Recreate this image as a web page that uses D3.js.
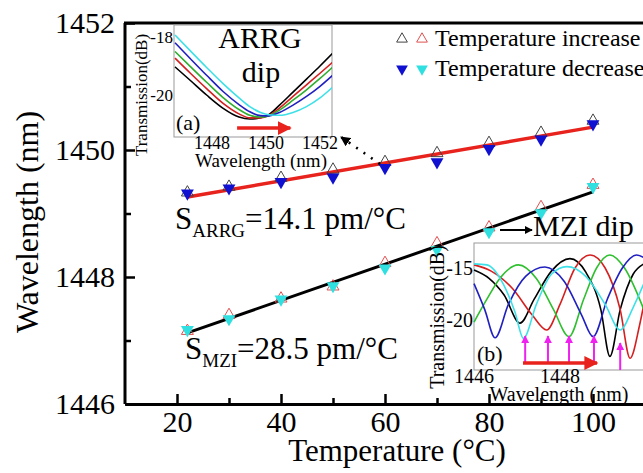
<!DOCTYPE html>
<meta charset="utf-8">
<style>
    body { margin: 0; background: #fff; }
    svg { display: block; }
    svg text { font-family: 'Liberation Serif', 'Times New Roman', serif !important; fill: #000; }
    .axis .domain { stroke: #000; stroke-width: 3; }
    .axis .tick line { stroke: #000; stroke-width: 2.5; }
</style>
<svg width="643" height="473"></svg>
<script src="https://d3js.org/d3.v7.min.js"></script>
<script>

    // main plot: peak wavelength (nm) vs temperature (°C)
    var temps = [22, 30, 40, 50, 60, 70, 80, 90, 100];
    var arrgUp = [1449.33, 1449.42, 1449.56, 1449.69, 1449.81, 1449.95, 1450.11, 1450.27, 1450.46];
    var arrgDown = [1449.32, 1449.40, 1449.50, 1449.57, 1449.72, 1449.81, 1450.02, 1450.17, 1450.41];
    var mziUp = [1447.15, 1447.40, 1447.66, 1447.85, 1448.22, 1448.53, 1448.78, 1449.10, 1449.45];
    var mziDown = [1447.17, 1447.34, 1447.65, 1447.86, 1448.14, 1448.43, 1448.71, 1449.01, 1449.42];
    var arrgFit = [[22, 1449.26], [100, 1450.36]];
    var mziFit = [[22, 1447.12], [100, 1449.34]];
    var xTicks = [20, 40, 60, 80, 100], xMinor = [30, 50, 70, 90];
    var yTicks = [1446, 1448, 1450, 1452], yMinor = [1447, 1449, 1451];

    // inset (a): ARRG dip spectra
    var aWl = [1446.63, 1447.2, 1447.8, 1448.4, 1449.0, 1449.4, 1449.8, 1450.1, 1450.5, 1451.0, 1451.5, 1452.0, 1452.48];
    var aBlack = [-19.03, -19.5, -20.0, -20.45, -20.76, -20.83, -20.78, -20.68, -20.35, -19.9, -19.45, -19.0, -18.55];
    var aRed = [-18.73, -19.25, -19.78, -20.28, -20.65, -20.79, -20.79, -20.71, -20.45, -20.05, -19.65, -19.25, -18.86];
    var aGreen = [-18.5, -19.02, -19.56, -20.08, -20.5, -20.7, -20.76, -20.72, -20.52, -20.18, -19.82, -19.43, -19.03];
    var aBlue = [-18.2, -18.75, -19.32, -19.87, -20.33, -20.58, -20.71, -20.72, -20.6, -20.35, -20.05, -19.7, -19.31];
    var aCyan = [-17.93, -18.48, -19.05, -19.6, -20.1, -20.4, -20.6, -20.68, -20.7, -20.6, -20.4, -20.1, -19.72];
    var aTicksX = [1448, 1450, 1452], aTicksY = [-18, -20];

    // inset (b): MZI spectra, [wavelength, dB]
    var bBlack = [[1446.0, -15.2], [1446.35, -16.0], [1446.7, -17.6], [1447.07, -20.3], [1447.4, -18.0], [1447.8, -15.3], [1448.23, -14.1],
        [1448.6, -15.4], [1448.95, -19.0], [1449.16, -23.5], [1449.4, -19.0], [1449.7, -15.6], [1449.95, -14.6]];
    var bRed = [[1446.0, -14.7], [1446.4, -15.3], [1446.9, -17.0], [1447.35, -19.5], [1447.69, -20.96], [1448.0, -18.5], [1448.35, -15.0],
        [1448.7, -13.75], [1449.05, -15.0], [1449.4, -19.0], [1449.63, -23.68], [1449.85, -20.5], [1449.95, -18.5]];
    var bGreen = [[1446.0, -20.2], [1446.3, -18.0], [1446.6, -16.0], [1447.03, -14.7], [1447.45, -16.0], [1447.85, -19.0], [1448.21, -21.6],
        [1448.55, -18.0], [1448.85, -15.0], [1449.16, -13.75], [1449.5, -15.0], [1449.95, -19.0]];
    var bBlue = [[1446.0, -16.5], [1446.25, -19.0], [1446.49, -21.7], [1446.8, -18.5], [1447.2, -15.8], [1447.65, -14.9], [1448.1, -16.3],
        [1448.5, -19.5], [1448.77, -21.6], [1449.1, -18.0], [1449.45, -15.0], [1449.78, -13.75], [1449.95, -14.0]];
    var bCyan = [[1446.0, -14.6], [1446.3, -14.7], [1446.65, -16.3], [1446.95, -19.2], [1447.15, -21.76], [1447.45, -18.5], [1447.8, -15.6],
        [1448.16, -14.87], [1448.6, -15.8], [1449.05, -18.5], [1449.4, -20.96], [1449.7, -18.8], [1449.95, -16.5]];
    var bDips = [1447.19, 1447.72, 1448.21, 1448.79, 1449.40];
    var bTicksX = [1446, 1448], bTicksY = [-15, -20];

    var svg = d3.select("svg");

    var x = d3.scaleLinear().domain([10, 110]).range([125, 645]);
    var y = d3.scaleLinear().domain([1446, 1452]).range([404, 23]);

    // arrow heads
    var defs = svg.append("defs");
    function head(id, color) {
        defs.append("marker").attr("id", id)
            .attr("viewBox", "0 0 10 10").attr("refX", 9).attr("refY", 5)
            .attr("markerWidth", 4).attr("markerHeight", 4).attr("orient", "auto")
            .append("path").attr("d", "M0,0L10,5L0,10Z").attr("fill", color);
    }
    head("hRed", "#e8221c");
    head("hMag", "#f020f0");
    head("hBlk", "#000");

    // top frame
    svg.append("line").attr("x1", 124).attr("x2", 643).attr("y1", y(1452)).attr("y2", y(1452))
        .attr("stroke", "#000").attr("stroke-width", 3);

    // axes
    var gx = svg.append("g").attr("class", "axis").attr("transform", "translate(0," + y(1446) + ")")
        .call(d3.axisBottom(x).tickValues(xTicks).tickSize(-10).tickSizeOuter(0).tickPadding(7));
    gx.selectAll("text").style("font-size", "30px");
    svg.append("g").attr("class", "axis").attr("transform", "translate(0," + y(1446) + ")")
        .call(d3.axisBottom(x).tickValues(xMinor).tickSize(-6).tickFormat(""))
        .select(".domain").remove();
    var gy = svg.append("g").attr("class", "axis").attr("transform", "translate(" + x(10) + ",0)")
        .call(d3.axisLeft(y).tickValues(yTicks).tickSize(-10).tickSizeOuter(0).tickPadding(10).tickFormat(d3.format("d")));
    gy.selectAll("text").style("font-size", "30px");
    gy.select(".domain").attr("d", "M0," + y(1452) + "V" + y(1446));
    svg.append("g").attr("class", "axis").attr("transform", "translate(" + x(10) + ",0)")
        .call(d3.axisLeft(y).tickValues(yMinor).tickSize(-6).tickFormat(""))
        .select(".domain").remove();

    svg.append("text").attr("x", 397).attr("y", 461).attr("text-anchor", "middle")
        .style("font-size", "31px").text("Temperature (°C)");
    svg.append("text").attr("transform", "translate(38,222) rotate(-90)").attr("text-anchor", "middle")
        .style("font-size", "32px").text("Wavelength (nm)");

    // fit lines
    var fit = d3.line().x(function (d) { return x(d[0]); }).y(function (d) { return y(d[1]); });
    svg.append("path").attr("d", fit(arrgFit)).attr("stroke", "#e8221c").attr("stroke-width", 3.5).attr("fill", "none");
    svg.append("path").attr("d", fit(mziFit)).attr("stroke", "#000").attr("stroke-width", 3).attr("fill", "none");

    // markers
    var up = d3.symbol(d3.symbolTriangle, 62), down = d3.symbol(d3.symbolTriangle, 72);
    function openTri(vals, color) {
        svg.append("g").selectAll("path").data(vals).enter().append("path")
            .attr("transform", function (d, i) { return "translate(" + x(temps[i]) + "," + y(d) + ")"; })
            .attr("d", up).attr("fill", "none").attr("stroke", color).attr("stroke-width", 1);
    }
    function fillTri(vals, color) {
        svg.append("g").selectAll("path").data(vals).enter().append("path")
            .attr("transform", function (d, i) { return "translate(" + x(temps[i]) + "," + y(d) + ") rotate(180)"; })
            .attr("d", down).attr("fill", color);
    }
    openTri(arrgUp, "#444");
    openTri(mziUp, "#e05050");
    fillTri(arrgDown, "#1010d0");
    fillTri(mziDown, "#30e0e0");

    // legend
    [["#444", 402], ["#e05050", 422]].forEach(function (s) {
        svg.append("path").attr("transform", "translate(" + s[1] + ",39)").attr("d", d3.symbol(d3.symbolTriangle, 50))
            .attr("fill", "none").attr("stroke", s[0]).attr("stroke-width", 1);
    });
    [["#1010d0", 402], ["#30e0e0", 422]].forEach(function (s) {
        svg.append("path").attr("transform", "translate(" + s[1] + ",69) rotate(180)").attr("d", d3.symbol(d3.symbolTriangle, 60))
            .attr("fill", s[0]);
    });
    svg.append("text").attr("x", 435).attr("y", 46).style("font-size", "24px").text("Temperature increase");
    svg.append("text").attr("x", 435).attr("y", 76).style("font-size", "24px").text("Temperature decrease");

    // sensitivity labels
    function sens(x0, yb, sub, rest) {
        var t = svg.append("text").attr("x", x0).attr("y", yb).style("font-size", "31px");
        t.append("tspan").text("S");
        t.append("tspan").attr("dy", 8).style("font-size", "19px").text(sub);
        t.append("tspan").attr("dy", -8).text(rest);
    }
    sens(175, 229, "ARRG", "=14.1 pm/°C");
    sens(185, 359, "MZI", "=28.5 pm/°C");

    svg.append("text").attr("x", 533).attr("y", 236).style("font-size", "30px").text("MZI dip");
    svg.append("line").attr("x1", 500).attr("x2", 532).attr("y1", 230).attr("y2", 230)
        .attr("stroke", "#000").attr("stroke-width", 2).attr("marker-end", "url(#hBlk)");

    // dotted pointer to inset (a)
    svg.append("line").attr("x1", 380).attr("y1", 164).attr("x2", 341).attr("y2", 137)
        .attr("stroke", "#000").attr("stroke-width", 2.5).attr("stroke-dasharray", "2,7")
        .attr("marker-end", "url(#hBlk)");

    // ---------- inset (a) ----------
    var xa = d3.scaleLinear().domain([1448, 1452]).range([212, 320]);
    var ya = d3.scaleLinear().domain([-18, -20]).range([37, 95]);
    var ga = svg.append("g");
    ga.append("rect").attr("x", 174).attr("y", 25).attr("width", 158).attr("height", 112)
        .attr("fill", "#fff").attr("stroke", "#999").attr("stroke-width", 1);
    defs.append("clipPath").attr("id", "clipA").append("rect").attr("x", 174).attr("y", 25).attr("width", 158).attr("height", 112);
    var lineA = d3.line().curve(d3.curveMonotoneX)
        .x(function (d, i) { return xa(aWl[i]); }).y(function (d) { return ya(d); });
    [[aBlack, "#000"], [aRed, "#d42020"], [aGreen, "#2fae2f"], [aBlue, "#2020c0"], [aCyan, "#3ee0e8"]].forEach(function (c) {
        ga.append("path").attr("clip-path", "url(#clipA)").attr("d", lineA(c[0]))
            .attr("fill", "none").attr("stroke", c[1]).attr("stroke-width", 1.6);
    });
    ga.append("text").attr("x", 260).attr("y", 48).attr("text-anchor", "middle").style("font-size", "30px").text("ARRG");
    ga.append("text").attr("x", 261).attr("y", 82).attr("text-anchor", "middle").style("font-size", "30px").text("dip");
    ga.append("text").attr("x", 176).attr("y", 130).style("font-size", "22px").text("(a)");
    ga.append("line").attr("x1", xa(1448.93)).attr("x2", xa(1450.9)).attr("y1", ya(-21.14)).attr("y2", ya(-21.14))
        .attr("stroke", "#e8221c").attr("stroke-width", 3.5).attr("marker-end", "url(#hRed)");
    aTicksY.forEach(function (v) {
        ga.append("text").attr("x", 173).attr("y", ya(v)).attr("dy", "0.33em").attr("text-anchor", "end")
            .style("font-size", "17px").text(v);
    });
    aTicksX.forEach(function (v) {
        ga.append("text").attr("x", xa(v)).attr("y", 149).attr("text-anchor", "middle").style("font-size", "18px").text(v);
    });
    ga.append("text").attr("x", 261).attr("y", 167).attr("text-anchor", "middle").style("font-size", "19px").text("Wavelength (nm)");
    ga.append("text").attr("transform", "translate(147,95) rotate(-90)").attr("text-anchor", "middle")
        .style("font-size", "17px").text("Transmission(dB)");

    // ---------- inset (b) ----------
    var xb = d3.scaleLinear().domain([1446, 1448]).range([474, 560]);
    var yb = d3.scaleLinear().domain([-15, -20]).range([268, 320]);
    var gb = svg.append("g");
    gb.append("rect").attr("x", 474).attr("y", 243).attr("width", 175).attr("height", 127)
        .attr("fill", "#fff").attr("stroke", "#999").attr("stroke-width", 1);
    var lineB = d3.line().curve(d3.curveMonotoneX)
        .x(function (d) { return xb(d[0]); }).y(function (d) { return yb(d[1]); });
    [[bBlack, "#000"], [bRed, "#d42020"], [bGreen, "#2fbf2f"], [bBlue, "#2020c0"], [bCyan, "#3ee0e8"]].forEach(function (c) {
        gb.append("path").attr("d", lineB(c[0])).attr("fill", "none").attr("stroke", c[1]).attr("stroke-width", 1.6);
    });
    bDips.forEach(function (w, i) {
        gb.append("line").attr("x1", xb(w)).attr("x2", xb(w))
            .attr("y1", i < 4 ? 364 : 370).attr("y2", i < 4 ? 336 : 343)
            .attr("stroke", "#f020f0").attr("stroke-width", 2).attr("marker-end", "url(#hMag)");
    });
    gb.append("line").attr("x1", xb(1447.14)).attr("x2", xb(1448.86)).attr("y1", 363).attr("y2", 363)
        .attr("stroke", "#e8221c").attr("stroke-width", 3.5).attr("marker-end", "url(#hRed)");
    gb.append("text").attr("x", 477).attr("y", 361).style("font-size", "22px").text("(b)");
    bTicksY.forEach(function (v) {
        gb.append("text").attr("x", 473).attr("y", yb(v)).attr("dy", "0.33em").attr("text-anchor", "end")
            .style("font-size", "20px").text(v);
    });
    bTicksX.forEach(function (v) {
        gb.append("text").attr("x", xb(v)).attr("y", 383).attr("text-anchor", "middle").style("font-size", "20px").text(v);
    });
    gb.append("text").attr("x", 559).attr("y", 401).attr("text-anchor", "middle").style("font-size", "20px").text("Wavelength (nm)");
    gb.append("text").attr("transform", "translate(444,317) rotate(-90)").attr("text-anchor", "middle")
        .style("font-size", "20px").text("Transmission(dB)");

</script>
